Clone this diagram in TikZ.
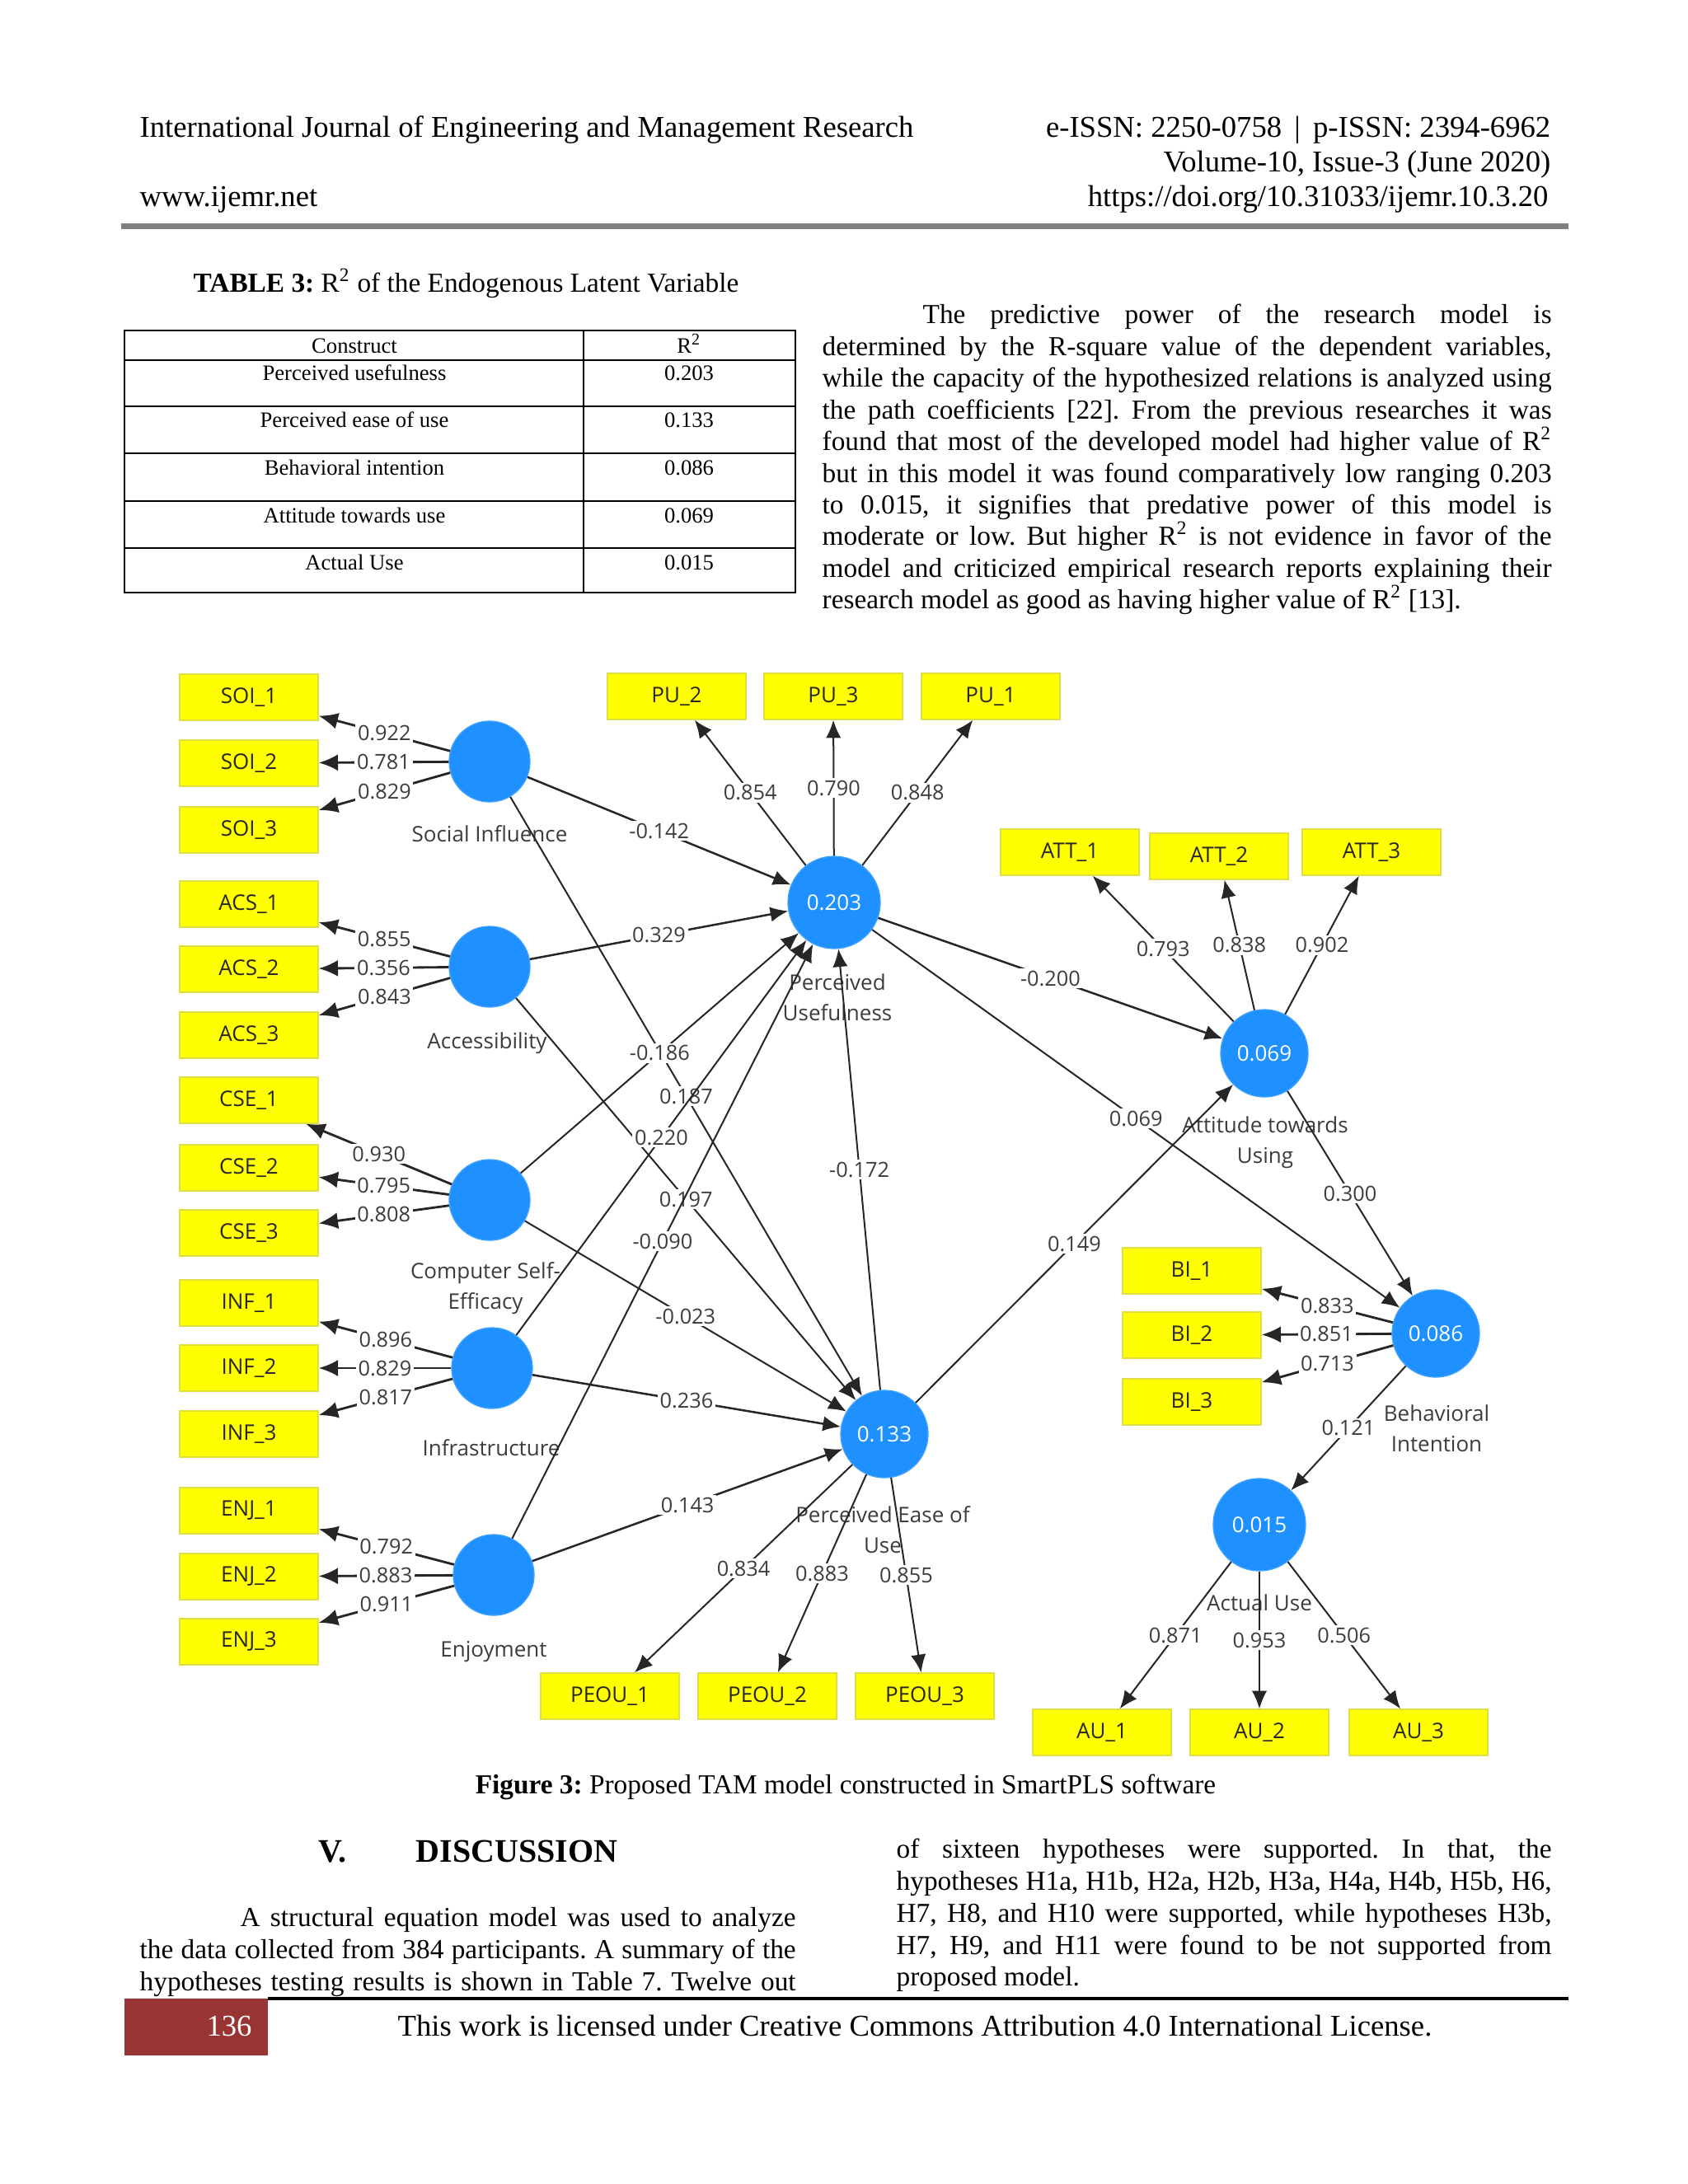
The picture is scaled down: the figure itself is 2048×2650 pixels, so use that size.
\documentclass[tikz,border=0pt]{standalone}
\usepackage{fontspec}
\setmainfont{Liberation Serif}
\newfontfamily\plsfont{Open Sans}
\usetikzlibrary{arrows.meta}
\definecolor{plsblue}{RGB}{30,144,255}
\definecolor{plsyellow}{RGB}{255,255,0}
\definecolor{plsframe}{RGB}{222,222,70}
\definecolor{rulegray}{RGB}{128,128,128}
\definecolor{footred}{RGB}{152,52,52}
\definecolor{labgray}{RGB}{60,60,60}
\newcommand{\jl}[2]{\makebox[#1][s]{#2}}
\frenchspacing
\begin{document}
\begin{tikzpicture}[x=0.3pt,y=-0.3pt,
  txt/.style={inner sep=0pt,font=\fontsize{10}{11.6}\selectfont},
  hdr/.style={inner sep=0pt,font=\fontsize{11}{13}\selectfont},
  tab/.style={inner sep=0pt,font=\fontsize{8}{9.5}\selectfont},
  ind/.style={rectangle,fill=plsyellow,draw=plsframe,line width=0.4pt,minimum width=50.4pt,minimum height=16.8pt,inner sep=0pt,font=\plsfont\fontsize{7.8}{9}\selectfont,text=black!85},
  lat/.style={circle,fill=plsblue,draw=plsblue!85!white,line width=0.4pt,minimum size=29.4pt,inner sep=0pt,font=\plsfont\fontsize{7.8}{9}\selectfont,text=white},
  endo/.style={lat,minimum size=31.8pt},
  bigendo/.style={lat,minimum size=33.6pt},
  lname/.style={inner sep=0pt,align=center,font=\plsfont\fontsize{7.8}{11}\selectfont,text=labgray},
  load/.style={draw=black!85,line width=0.85pt,-{Latex[length=7pt,width=6pt]}},
  spath/.style={draw=black!85,line width=0.6pt,-{Latex[length=6.5pt,width=5.5pt]}},
  lab/.style={fill=white,inner sep=0.8pt,font=\plsfont\fontsize{7.6}{9}\selectfont,text=labgray}]
\useasboundingbox (0,0) rectangle (2048,2650);
\fill[white] (0,0) rectangle (2048,2650);

% ---------- header ----------
\node[hdr,anchor=base west] (hjournal) at (169,166) {International Journal of Engineering and Management Research};
\node[hdr,anchor=base east] (hissn) at (1882,166) {e-ISSN: 2250-0758 \,|\, p-ISSN: 2394-6962};
\node[hdr,anchor=base east] (hvol) at (1882,208) {Volume-10, Issue-3 (June 2020)};
\node[hdr,anchor=base west] (hweb) at (169,250) {www.ijemr.net};
\node[hdr,anchor=base east] (hdoi) at (1879,250) {https://doi.org/10.31033/ijemr.10.3.20};
\fill[rulegray] (147,271) rectangle (1903,278);

% ---------- table ----------
\node[txt,anchor=base west] (tcap) at (234,354) {\textbf{TABLE 3:} R\textsuperscript{2} of the Endogenous Latent Variable};
\draw[line width=0.8pt] (151,401) rectangle (965,719);
\foreach \yy in {437,493,550,608,665} \draw[line width=0.8pt] (151,\yy) -- (965,\yy);
\draw[line width=0.8pt] (708,401) -- (708,719);
\node[tab,anchor=base] (th1) at (430,428) {Construct};
\node[tab,anchor=base] (th2) at (836,428) {R\textsuperscript{2}};
\node[tab,anchor=base] (r1a) at (430,461) {Perceived usefulness};
\node[tab,anchor=base] (r1b) at (836,461) {0.203};
\node[tab,anchor=base] (r2a) at (430,518) {Perceived ease of use};
\node[tab,anchor=base] (r2b) at (836,518) {0.133};
\node[tab,anchor=base] (r3a) at (430,576) {Behavioral intention};
\node[tab,anchor=base] (r3b) at (836,576) {0.086};
\node[tab,anchor=base] (r4a) at (430,634) {Attitude towards use};
\node[tab,anchor=base] (r4b) at (836,634) {0.069};
\node[tab,anchor=base] (r5a) at (430,691) {Actual Use};
\node[tab,anchor=base] (r5b) at (836,691) {0.015};

% ---------- right paragraph ----------
\node[txt,anchor=base west] (p1) at (1119,392) {\jl{228.9pt}{The predictive power of the research model is}};
\node[txt,anchor=base west] (p2) at (997,431) {\jl{265.5pt}{determined by the R-square value of the dependent variables,}};
\node[txt,anchor=base west] (p3) at (997,469) {\jl{265.5pt}{while the capacity of the hypothesized relations is analyzed using}};
\node[txt,anchor=base west] (p4) at (997,508) {\jl{265.5pt}{the path coefficients [22]. From the previous researches it was}};
\node[txt,anchor=base west] (p5) at (997,546) {\jl{265.5pt}{found that most of the developed model had higher value of R\textsuperscript{2}}};
\node[txt,anchor=base west] (p6) at (997,585) {\jl{265.5pt}{but in this model it was found comparatively low ranging 0.203}};
\node[txt,anchor=base west] (p7) at (997,623) {\jl{265.5pt}{to 0.015, it signifies that predative power of this model is}};
\node[txt,anchor=base west] (p8) at (997,661) {\jl{265.5pt}{moderate or low. But higher R\textsuperscript{2} is not evidence in favor of the}};
\node[txt,anchor=base west] (p9) at (997,700) {\jl{265.5pt}{model and criticized empirical research reports explaining their}};
\node[txt,anchor=base west] (p10) at (997,738) {research model as good as having higher value of R\textsuperscript{2} [13].};

% ---------- diagram: indicators ----------
\node[ind] (SOI1) at (302,846) {SOI\_1};
\node[ind] (SOI2) at (302,926) {SOI\_2};
\node[ind] (SOI3) at (302,1007) {SOI\_3};
\node[ind] (ACS1) at (302,1097) {ACS\_1};
\node[ind] (ACS2) at (302,1176) {ACS\_2};
\node[ind] (ACS3) at (302,1256) {ACS\_3};
\node[ind] (CSE1) at (302,1335) {CSE\_1};
\node[ind] (CSE2) at (302,1417) {CSE\_2};
\node[ind] (CSE3) at (302,1496) {CSE\_3};
\node[ind] (INF1) at (302,1581) {INF\_1};
\node[ind] (INF2) at (302,1660) {INF\_2};
\node[ind] (INF3) at (302,1740) {INF\_3};
\node[ind] (ENJ1) at (302,1833) {ENJ\_1};
\node[ind] (ENJ2) at (302,1913) {ENJ\_2};
\node[ind] (ENJ3) at (302,1992) {ENJ\_3};
\node[ind] (PU2) at (821,845) {PU\_2};
\node[ind] (PU3) at (1011,845) {PU\_3};
\node[ind] (PU1) at (1202,845) {PU\_1};
\node[ind] (ATT1) at (1298,1034) {ATT\_1};
\node[ind] (ATT2) at (1479,1039) {ATT\_2};
\node[ind] (ATT3) at (1664,1034) {ATT\_3};
\node[ind] (BI1) at (1446,1542) {BI\_1};
\node[ind] (BI2) at (1446,1620) {BI\_2};
\node[ind] (BI3) at (1446,1701) {BI\_3};
\node[ind] (AU1) at (1337,2102) {AU\_1};
\node[ind] (AU2) at (1528,2102) {AU\_2};
\node[ind] (AU3) at (1721,2102) {AU\_3};
\node[ind] (PEOU1) at (740,2058) {PEOU\_1};
\node[ind] (PEOU2) at (931,2058) {PEOU\_2};
\node[ind] (PEOU3) at (1122,2058) {PEOU\_3};

% ---------- diagram: latent variables ----------
\node[lat] (SI) at (594,924) {};
\node[lat] (ACS) at (594,1173) {};
\node[lat] (CSE) at (594,1456) {};
\node[lat] (INF) at (597,1660) {};
\node[lat] (ENJ) at (599,1911) {};
\node[bigendo] (PU) at (1012,1095) {0.203};
\node[endo] (PEOU) at (1073,1740) {0.133};
\node[endo] (ATT) at (1534,1278) {0.069};
\node[endo] (BI) at (1742,1618) {0.086};
\node[bigendo] (AU) at (1528,1850) {0.015};

% ---------- latent names ----------
\node[lname] (nSI) at (594,1012) {Social Influence};
\node[lname] (nACS) at (591,1266) {Accessibility};
\node[lname] (nCSE) at (589,1563) {Computer Self-\\Efficacy};
\node[lname] (nINF) at (596,1757) {Infrastructure};
\node[lname] (nENJ) at (599,2004) {Enjoyment};
\node[lname] (nPU) at (1016,1210) {Perceived\\Usefulness};
\node[lname] (nATT) at (1535,1386) {Attitude towards\\Using};
\node[lname] (nBI) at (1743,1733) {Behavioral\\Intention};
\node[lname] (nAU) at (1528,1945) {Actual Use};
\node[lname] (nPEOU) at (1071,1856) {Perceived Ease of\\Use};

% ---------- structural paths ----------
\draw[spath,line width=0.75pt] (SI) -- node[lab]{-0.142} (PU);
\draw[spath] (SI) -- node[lab]{0.187} (PEOU);
\draw[spath,line width=0.75pt] (ACS) -- node[lab]{0.329} (PU);
\draw[spath] (ACS) -- node[lab]{0.197} (PEOU);
\draw[spath] (CSE) -- node[lab]{-0.186} (PU);
\draw[spath] (CSE) -- node[lab]{-0.023} (PEOU);
\draw[spath] (INF) -- node[lab]{0.220} (PU);
\draw[spath,line width=0.75pt] (INF) -- node[lab]{0.236} (PEOU);
\draw[spath] (ENJ) -- node[lab]{-0.090} (PU);
\draw[spath,line width=0.75pt] (ENJ) -- node[lab]{0.143} (PEOU);
\draw[spath] (PEOU) -- node[lab]{-0.172} (PU);
\draw[spath,line width=0.75pt] (PU) -- node[lab]{-0.200} (ATT);
\draw[spath] (PU) -- node[lab]{0.069} (BI);
\draw[spath] (PEOU) -- node[lab]{0.149} (ATT);
\draw[spath] (ATT) -- node[lab]{0.300} (BI);
\draw[spath] (BI) -- node[lab]{0.121} (AU);

% ---------- loadings ----------
\draw[load] (SI) -- node[lab]{0.922} (SOI1);
\draw[load] (SI) -- node[lab]{0.781} (SOI2);
\draw[load] (SI) -- node[lab]{0.829} (SOI3);
\draw[load] (ACS) -- node[lab]{0.855} (ACS1);
\draw[load] (ACS) -- node[lab]{0.356} (ACS2);
\draw[load] (ACS) -- node[lab]{0.843} (ACS3);
\draw[load] (CSE) -- node[lab]{0.930} (CSE1);
\draw[load] (CSE) -- node[lab]{0.795} (CSE2);
\draw[load] (CSE) -- node[lab]{0.808} (CSE3);
\draw[load] (INF) -- node[lab]{0.896} (INF1);
\draw[load] (INF) -- node[lab]{0.829} (INF2);
\draw[load] (INF) -- node[lab]{0.817} (INF3);
\draw[load] (ENJ) -- node[lab]{0.792} (ENJ1);
\draw[load] (ENJ) -- node[lab]{0.883} (ENJ2);
\draw[load] (ENJ) -- node[lab]{0.911} (ENJ3);
\draw[spath] (PU) -- node[lab]{0.854} (PU2);
\draw[spath] (PU) -- node[lab]{0.790} (PU3);
\draw[spath] (PU) -- node[lab]{0.848} (PU1);
\draw[spath] (ATT) -- node[lab]{0.793} (ATT1);
\draw[spath] (ATT) -- node[lab]{0.838} (ATT2);
\draw[spath] (ATT) -- node[lab]{0.902} (ATT3);
\draw[load] (BI) -- node[lab]{0.833} (BI1);
\draw[load] (BI) -- node[lab]{0.851} (BI2);
\draw[load] (BI) -- node[lab]{0.713} (BI3);
\draw[spath] (AU) -- node[lab]{0.871} (AU1);
\draw[spath] (AU) -- node[lab]{0.953} (AU2);
\draw[spath] (AU) -- node[lab]{0.506} (AU3);
\draw[spath] (PEOU) -- node[lab]{0.834} (PEOU1);
\draw[spath] (PEOU) -- node[lab]{0.883} (PEOU2);
\draw[spath] (PEOU) -- node[lab]{0.855} (PEOU3);

% ---------- caption ----------
\node[txt,anchor=base] (fcap) at (1026,2176) {\textbf{Figure 3:} Proposed TAM model constructed in SmartPLS software};

% ---------- discussion ----------
\node[inner sep=0pt,anchor=base west,font=\fontsize{12}{14}\selectfont\bfseries] (secnum) at (386,2259) {V.};
\node[inner sep=0pt,anchor=base west,font=\fontsize{12}{14}\selectfont\bfseries] (sectitle) at (504,2259) {DISCUSSION};
\node[txt,anchor=base west] (d1) at (291,2337) {\jl{202.2pt}{A structural equation model was used to analyze}};
\node[txt,anchor=base west] (d2) at (169,2376) {\jl{238.8pt}{the data collected from 384 participants. A summary of the}};
\node[txt,anchor=base west] (d3) at (169,2415) {\jl{238.8pt}{hypotheses testing results is shown in Table 7. Twelve out}};
\node[txt,anchor=base west] (e1) at (1087,2254) {\jl{238.5pt}{of sixteen hypotheses were supported. In that, the}};
\node[txt,anchor=base west] (e2) at (1087,2293) {\jl{238.5pt}{hypotheses H1a, H1b, H2a, H2b, H3a, H4a, H4b, H5b, H6,}};
\node[txt,anchor=base west] (e3) at (1087,2332) {\jl{238.5pt}{H7, H8, and H10 were supported, while hypotheses H3b,}};
\node[txt,anchor=base west] (e4) at (1087,2371) {\jl{238.5pt}{H7, H9, and H11 were found to be not supported from}};
\node[txt,anchor=base west] (e5) at (1087,2409) {proposed model.};

% ---------- footer ----------
\draw[line width=1pt] (325,2425) -- (1903,2425);
\fill[footred] (151,2425) rectangle (325,2494);
\node[hdr,anchor=base,text=white] (pagenum) at (278,2470) {136};
\node[hdr,anchor=base] (license) at (1110,2470) {This work is licensed under Creative Commons Attribution 4.0 International License.};
\end{tikzpicture}
\end{document}
